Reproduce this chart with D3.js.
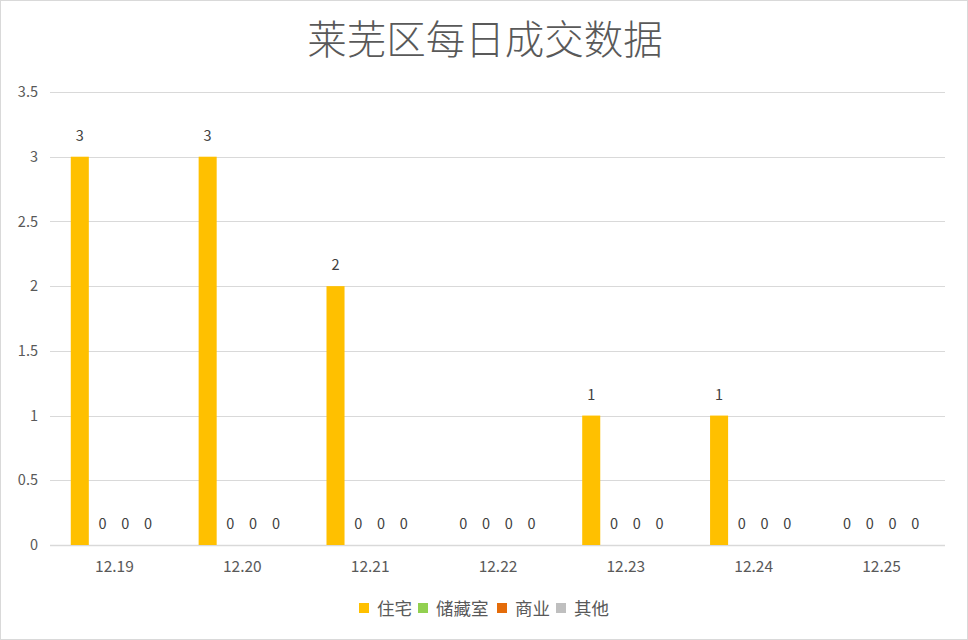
<!DOCTYPE html>
<html>
<head>
<meta charset="utf-8">
<script src="https://cdn.jsdelivr.net/npm/d3@7"></script>
<style>
  body { margin: 0; background: #fff; }
  text { font-family: "Noto Sans CJK SC", "Noto Sans", sans-serif; }
  .tick text { fill: #595959; }
</style>
</head>
<body>
<div id="area"></div>
<script>
const dates = ['12.19', '12.20', '12.21', '12.22', '12.23', '12.24', '12.25']
const seriesNames = ['住宅', '储藏室', '商业', '其他']
const zhuzhai = [3, 3, 2, 0, 1, 1, 0]
const chucangshi = [0, 0, 0, 0, 0, 0, 0]
const shangye = [0, 0, 0, 0, 0, 0, 0]
const qita = [0, 0, 0, 0, 0, 0, 0]
const yTicks = [0, 0.5, 1, 1.5, 2, 2.5, 3, 3.5]
const colors = ['#FFC000', '#92D050', '#E46C0A', '#BFBFBF']

const allSeries = [zhuzhai, chucangshi, shangye, qita]
const rows = dates.map((d, i) => ({
  date: d,
  vals: seriesNames.map((s, j) => ({ name: s, value: allSeries[j][i], color: colors[j] }))
}))

const W = 968, H = 640
const svg = d3.select('#area')
            .append('svg')
            .attr('width', W)
            .attr('height', H)

svg.append('rect')
    .attr('x', 0.5).attr('y', 0.5)
    .attr('width', W - 1).attr('height', H - 1)
    .attr('fill', '#fff')
    .attr('stroke', '#d9d9d9')

const x0 = d3.scaleBand()
            .domain(dates)
            .range([50, 945])
            .paddingInner(0.325)
            .paddingOuter(0.1625)
const x1 = d3.scaleBand()
            .domain(seriesNames)
            .range([0, x0.bandwidth()])
            .paddingInner(0.207)
const yScale = d3.scaleLinear()
              .domain([0, 3.5])
              .range([545, 92])

// gridlines
svg.append('g')
    .selectAll('line')
    .data(yTicks)
    .enter()
    .append('line')
    .attr('x1', 50)
    .attr('x2', 945)
    .attr('y1', d => Math.round(yScale(d)) + 0.5)
    .attr('y2', d => Math.round(yScale(d)) + 0.5)
    .attr('stroke', '#d9d9d9')
    .attr('stroke-width', d => d === 0 ? 1.5 : 1.2)

// y axis labels
const yAxis = svg.append('g')
    .attr('transform', 'translate(38,0)')
    .call(d3.axisLeft(yScale).tickValues(yTicks).tickSize(0).tickPadding(0).tickFormat(d3.format('')))
yAxis.select('.domain').remove()
yAxis.selectAll('text').attr('font-size', 14.5)

// x axis labels
const xAxis = svg.append('g')
    .attr('transform', 'translate(0,559)')
    .call(d3.axisBottom(d3.scalePoint().domain(dates).range([x0(dates[0]) + x0.bandwidth() / 2, x0(dates[6]) + x0.bandwidth() / 2])).tickSize(0).tickPadding(2))
xAxis.select('.domain').remove()
xAxis.selectAll('text').attr('font-size', 15.5)

const groups = svg.selectAll('.grp')
    .data(rows)
    .enter()
    .append('g')
    .attr('class', 'grp')
    .attr('transform', d => `translate(${x0(d.date)},0)`)

groups.selectAll('rect')
    .data(d => d.vals)
    .enter()
    .append('rect')
    .attr('x', d => x1(d.name))
    .attr('y', d => yScale(d.value))
    .attr('width', x1.bandwidth())
    .attr('height', d => yScale(0) - yScale(d.value))
    .attr('fill', d => d.color)

groups.selectAll('.lbl')
    .data(d => d.vals)
    .enter()
    .append('text')
    .attr('class', 'lbl')
    .attr('x', d => x1(d.name) + x1.bandwidth() / 2)
    .attr('y', d => yScale(d.value) - 16)
    .attr('text-anchor', 'middle')
    .attr('font-size', 14.5)
    .attr('fill', '#404040')
    .text(d => d.value)

// title
svg.append('text')
    .attr('x', W / 2 + 1)
    .attr('y', 54)
    .attr('text-anchor', 'middle')
    .attr('font-size', 39.5)
    .attr('font-weight', 300)
    .attr('fill', '#595959')
    .text('莱芜区每日成交数据')

// legend
const legendX = [359, 418, 497, 556]
const legend = svg.selectAll('.leg')
    .data(seriesNames)
    .enter()
    .append('g')
    .attr('class', 'leg')
    .attr('transform', (d, i) => `translate(${legendX[i]},603)`)
legend.append('rect')
    .attr('width', 10)
    .attr('height', 10)
    .attr('fill', (d, i) => colors[i])
legend.append('text')
    .attr('x', 18)
    .attr('y', 11.5)
    .attr('font-size', 17.5)
    .attr('fill', '#595959')
    .text(d => d)
</script>
</body>
</html>
